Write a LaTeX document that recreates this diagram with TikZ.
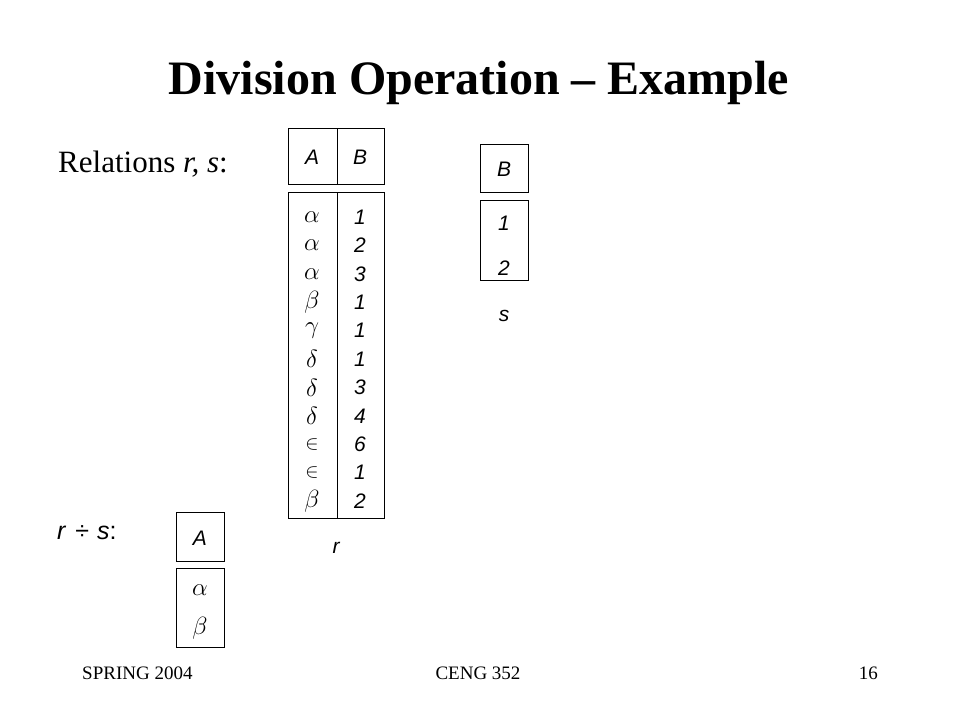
\documentclass[tikz,border=0pt]{standalone}
\usepackage{fontspec}
\usepackage{graphicx}
\setmainfont{Liberation Serif}
\newfontfamily\arial{Liberation Sans}
\newcommand\smallin{\scalebox{0.8}{$\in$}}
\begin{document}
\begin{tikzpicture}[x=1pt,y=-1pt,
  box/.style={draw=black,line width=1pt},
  cell/.style={inner sep=0pt,font=\arial\itshape\fontsize{21}{24}\selectfont},
  gk/.style={inner sep=0pt,font=\fontsize{23}{26}\selectfont},
  foot/.style={inner sep=0pt,font=\fontsize{19}{22}\selectfont}]
\useasboundingbox (0,0) rectangle (960,720);
% title
\node[inner sep=0pt,anchor=base,font=\bfseries\fontsize{48}{56}\selectfont] (title) at (479,94) {Division Operation -- Example};
\node[inner sep=0pt,anchor=base west,font=\fontsize{31}{36}\selectfont] (rel) at (58,172) {Relations \textit{r, s}:};
\node[inner sep=0pt,anchor=west,font=\arial\fontsize{25}{28}\selectfont] (div) at (57,533) {\textit{r}\hspace{9pt}÷\hspace{8pt}\textit{s}:};
% r table
\draw[box] (288,128) rectangle (384,184);
\draw[box] (337,128) -- (337,184);
\draw[box] (288,192) rectangle (384,518);
\draw[box] (337,192) -- (337,518);
\node[cell] (rA) at (312,157) {A};
\node[cell] (rB) at (360,157) {B};
\foreach \a/\b [count=\i from 0] in {\alpha/1,\alpha/2,\alpha/3,\beta/1,\gamma/1,\delta/1,\delta/3,\delta/4,\smallin/6,\smallin/1,\beta/2}{
  \node[gk] (ra\i) at (312,{217+28.4*\i}) {$\a$};
  \node[cell] (rb\i) at (360,{217+28.4*\i}) {\b};
}
\node[cell] (rname) at (336,548) {r};
% s table
\draw[box] (480,144) rectangle (528,192);
\draw[box] (480,200) rectangle (528,280);
\node[cell] (sB) at (504,169) {B};
\node[cell] (s1) at (504,223) {1};
\node[cell] (s2) at (504,268) {2};
\node[cell] (sname) at (504,316) {s};
% result table
\draw[box] (176,512) rectangle (224,561);
\draw[box] (176,568) rectangle (224,647);
\node[cell] (qA) at (200,538) {A};
\node[gk] (q1) at (200,590) {$\alpha$};
\node[gk] (q2) at (200,628) {$\beta$};
% footer
\node[foot,anchor=base west] (f1) at (82,679) {SPRING 2004};
\node[foot,anchor=base] (f2) at (478,679) {CENG 352};
\node[foot,anchor=base east] (f3) at (878,679) {16};
\end{tikzpicture}
\end{document}
